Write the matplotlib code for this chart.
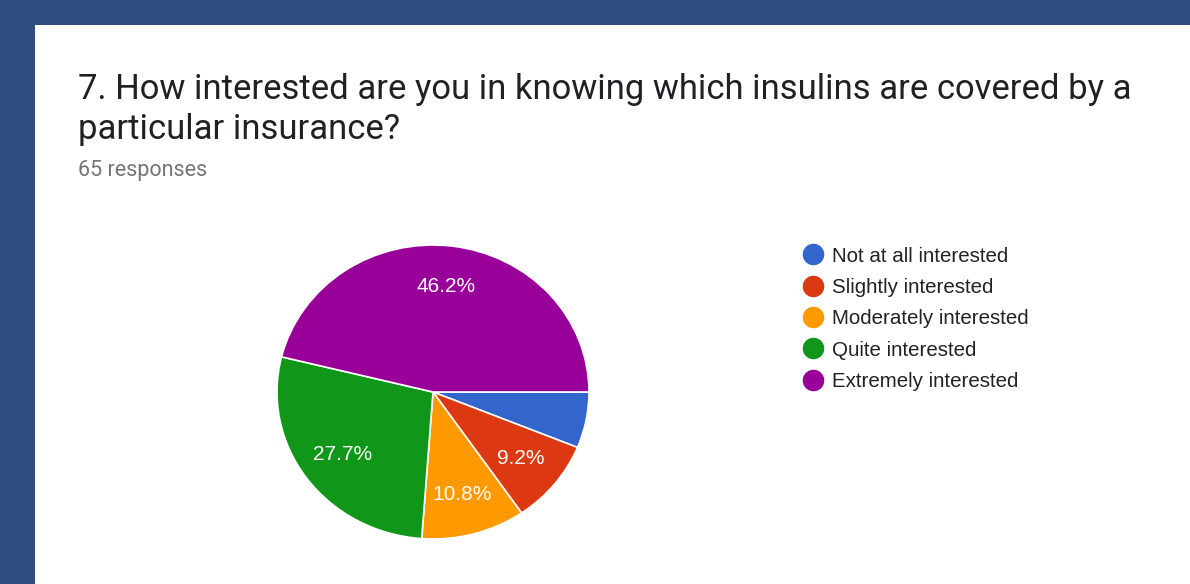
import matplotlib
matplotlib.use("Agg")
import matplotlib.pyplot as plt
from matplotlib.lines import Line2D

# ---- data ----
categories = ["Not at all interested", "Slightly interested", "Moderately interested",
              "Quite interested", "Extremely interested"]
counts = [4, 6, 7, 18, 30]
colors = ["#3366CC", "#DC3912", "#FF9900", "#109618", "#990099"]
title_lines = ["7. How interested are you in knowing which insulins are covered by a",
               "particular insurance?"]
subtitle = "65 responses"

W, H = 1190, 584
fig = plt.figure(figsize=(W / 100, H / 100), dpi=100)
fig.patch.set_facecolor("#324D7F")

# white card
card = fig.add_axes([35 / W, 0, 1 - 35 / W, 1 - 25 / H])
card.set_facecolor("white")
card.set_xticks([]); card.set_yticks([])
for s in card.spines.values():
    s.set_visible(False)

def fy(y):
    return 1 - y / H

fig.text(78 / W, fy(99), title_lines[0], family="Roboto", fontsize=24.9,
         color="#202124", va="baseline", ha="left")
fig.text(78 / W, fy(139), title_lines[1], family="Roboto", fontsize=24.9,
         color="#202124", va="baseline", ha="left")
fig.text(78 / W, fy(176), subtitle, family="Roboto", fontsize=15.5,
         color="#757575", va="baseline", ha="left")

# pie
left, right, top, bottom = 277, 589, 245, 539
ax = fig.add_axes([left / W, fy(bottom), (right - left) / W, (bottom - top) / H])

def fmt(p):
    return f"{p:.1f}%" if p >= 8 else ""

wedges, texts, autotexts = ax.pie(
    counts, colors=colors, startangle=0, counterclock=False,
    autopct=fmt, pctdistance=0.72,
    wedgeprops=dict(edgecolor="white", linewidth=1.2),
    textprops=dict(color="white", family="Liberation Sans", fontsize=15))
ax.set_aspect("auto")
ax.set_xlim(-1, 1)
ax.set_ylim(-1, 1)
ax.axis("off")
for w in wedges:
    w.set_clip_on(False)

handles = [Line2D([], [], marker="o", linestyle="none", markersize=14.5,
                  markerfacecolor=c, markeredgecolor=c) for c in colors]
leg = fig.legend(handles, categories, loc="upper left",
                 bbox_to_anchor=(803 / W, fy(246.5)), frameon=False,
                 prop=dict(family="Liberation Sans", size=14.8),
                 labelspacing=0.6, handlelength=1.0, handletextpad=0.41,
                 borderaxespad=0, borderpad=0)
for t in leg.get_texts():
    t.set_color("#222222")

fig.savefig("out.png", dpi=100, facecolor=fig.get_facecolor())
